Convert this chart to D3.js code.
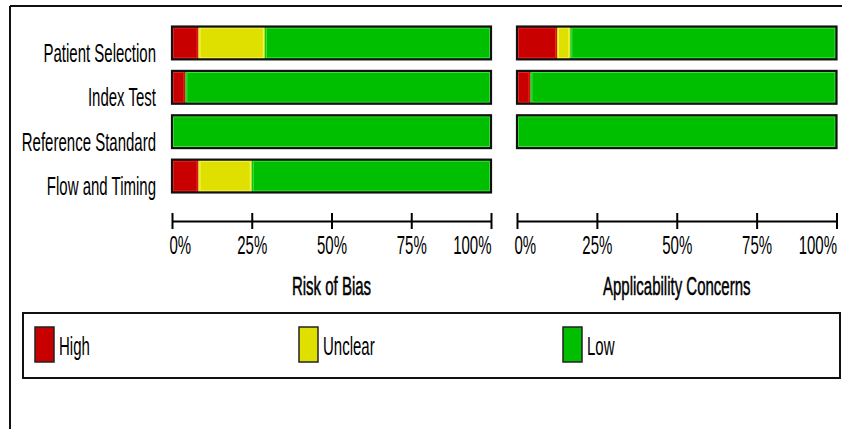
<!DOCTYPE html>
<html>
  <head>
    <meta charset="utf-8">
    <script src="https://d3js.org/d3.v7.min.js"></script>
    <style>
      body { margin: 0; background: #fff; }
      svg { display: block; font-family: "Liberation Sans", Arial, sans-serif; }
    </style>
  </head>
  <body>
    <script type="text/javascript">
      "use strict";

      // QUADAS-2 domains and percentages of studies per judgement
      var domains = ["Patient Selection", "Index Test", "Reference Standard", "Flow and Timing"];
      var levels = ["High", "Unclear", "Low"];

      var riskHigh = [8.3, 4.2, 0, 8.3];
      var riskUnclear = [20.8, 0, 0, 16.7];
      var riskLow = [70.9, 95.8, 100, 75.0];

      // applicability is only judged for the first three domains
      var applHigh = [12.5, 4.2, 0];
      var applUnclear = [4.2, 0, 0];
      var applLow = [83.3, 95.8, 100];

      var tickValues = [0, 25, 50, 75, 100];

      var colors = { High: "#c80000", Unclear: "#e0e000", Low: "#00bf00" };
      var shine = { High: "#ec2a2a", Unclear: "#f6f66a", Low: "#46e446" };

      var width = 842, height = 429;
      var narrow = 0.6; // original uses a condensed face, squeeze a normal one
      var fontSize = 25;

      var svg = d3.select("body").append("svg")
          .attr("width", width)
          .attr("height", height);

      svg.append("rect").attr("width", width).attr("height", height).attr("fill", "#fff");

      // outer frame (top and left only)
      svg.append("line")
          .attr("x1", 10).attr("y1", 6).attr("x2", width).attr("y2", 6)
          .attr("stroke", "#111").attr("stroke-width", 2);
      svg.append("line")
          .attr("x1", 10).attr("y1", 6).attr("x2", 10).attr("y2", height)
          .attr("stroke", "#111").attr("stroke-width", 2);

      function squeezed(sel, x, y, anchor) {
          return sel.attr("transform", "translate(" + x + "," + y + ") scale(" + narrow + ",1)")
              .attr("text-anchor", anchor)
              .attr("font-size", fontSize)
              .attr("fill", "#000");
      }

      var y = d3.scaleBand()
          .domain(domains)
          .range([15, 204])
          .padding(0.26);

      // row labels
      domains.forEach(function(d) {
          squeezed(svg.append("text"), 156, y(d) + y.bandwidth() / 2 + 19, "end").text(d);
      });

      function makeRows(high, unclear, low) {
          return high.map(function(h, i) {
              return { domain: domains[i], High: h, Unclear: unclear[i], Low: low[i] };
          });
      }

      function panel(x0, x1, rows, title) {
          var x = d3.scaleLinear().domain([0, 100]).range([x0, x1]);
          var series = d3.stack().keys(levels)(rows);
          var g = svg.append("g");

          series.forEach(function(s) {
              var segs = s.filter(function(p) { return p[1] - p[0] > 0; });
              g.selectAll(null)
                  .data(segs)
                  .enter().append("rect")
                  .attr("x", function(p) { return x(p[0]); })
                  .attr("y", function(p) { return y(p.data.domain); })
                  .attr("width", function(p) { return x(p[1]) - x(p[0]); })
                  .attr("height", y.bandwidth())
                  .attr("fill", colors[s.key]);
              // light inner edge like the original bevel
              g.selectAll(null)
                  .data(segs)
                  .enter().append("rect")
                  .attr("x", function(p) { return x(p[0]) + 1.5; })
                  .attr("y", function(p) { return y(p.data.domain) + 1.5; })
                  .attr("width", function(p) { return Math.max(0, x(p[1]) - x(p[0]) - 3); })
                  .attr("height", y.bandwidth() - 3)
                  .attr("fill", "none")
                  .attr("stroke", shine[s.key])
                  .attr("stroke-width", 1);
          });

          // black outline around each whole bar
          g.selectAll(null)
              .data(rows)
              .enter().append("rect")
              .attr("x", x(0))
              .attr("y", function(r) { return y(r.domain); })
              .attr("width", x(100) - x(0))
              .attr("height", y.bandwidth())
              .attr("fill", "none")
              .attr("stroke", "#111")
              .attr("stroke-width", 2.2);

          var axis = d3.axisBottom(x)
              .tickValues(tickValues)
              .tickFormat(function(d) { return d + "%"; })
              .tickSize(8)
              .tickSizeOuter(0);

          var ax = svg.append("g")
              .attr("transform", "translate(0,221)")
              .call(axis)
              .attr("font-family", null)
              .attr("font-size", fontSize);

          ax.select(".domain").attr("stroke", "#000").attr("stroke-width", 2);
          ax.selectAll(".tick line")
              .attr("y1", -8).attr("y2", 8)
              .attr("stroke", "#000").attr("stroke-width", 2);
          ax.selectAll(".tick text").each(function(d, i, nodes) {
              var t = d3.select(this).attr("y", 0).attr("dy", null);
              if (i === 0) squeezed(t, -3, 33, "start");
              else if (i === nodes.length - 1) squeezed(t, 0, 33, "end");
              else squeezed(t, 0, 33, "middle");
          });

          squeezed(svg.append("text"), (x0 + x1) / 2, 295, "middle")
              .attr("stroke", "#000")
              .attr("stroke-width", 0.5)
              .text(title);
      }

      panel(172, 491, makeRows(riskHigh, riskUnclear, riskLow), "Risk of Bias");
      panel(517, 836.5, makeRows(applHigh, applUnclear, applLow), "Applicability Concerns");

      // legend
      svg.append("rect")
          .attr("x", 23).attr("y", 313)
          .attr("width", 817).attr("height", 65)
          .attr("fill", "none")
          .attr("stroke", "#111")
          .attr("stroke-width", 2);

      var legend = svg.selectAll(".legend-item")
          .data(levels)
          .enter().append("g")
          .attr("class", "legend-item")
          .attr("transform", function(d, i) { return "translate(" + (35 + i * 264) + ",0)"; });

      legend.append("rect")
          .attr("x", 0).attr("y", 327)
          .attr("width", 19).attr("height", 35)
          .attr("fill", function(d) { return colors[d]; })
          .attr("stroke", "#222")
          .attr("stroke-width", 1.5);

      legend.each(function(d) {
          squeezed(d3.select(this).append("text"), 24, 355, "start").text(d);
      });
    </script>
  </body>
</html>
